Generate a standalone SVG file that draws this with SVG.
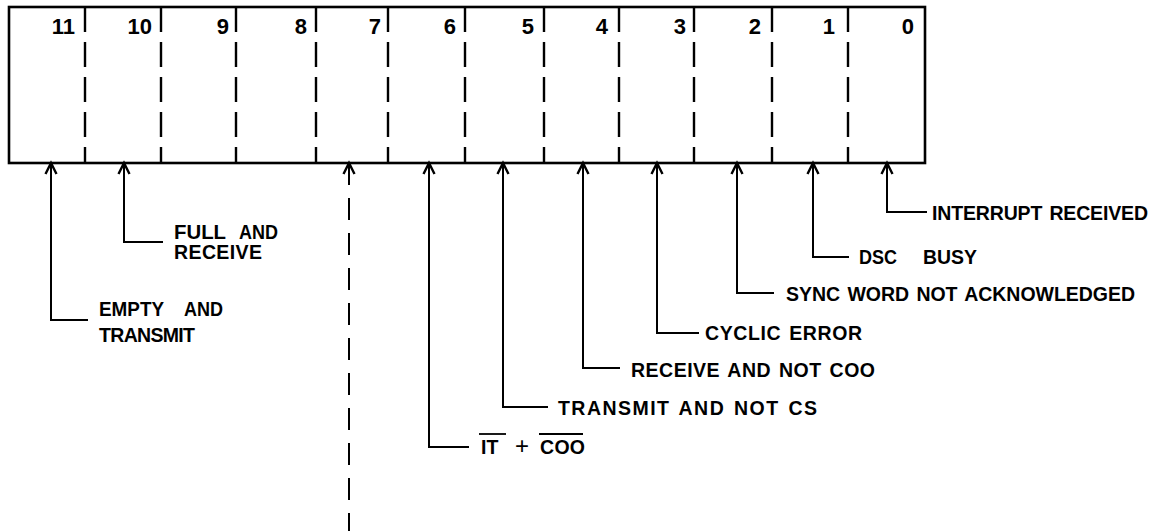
<svg xmlns="http://www.w3.org/2000/svg" width="1157" height="531" viewBox="0 0 1157 531">
<style>
.reg{fill:none;stroke:#000;stroke-width:2.6}
.div{stroke:#000;stroke-width:2.4;stroke-dasharray:25 10}
.num{font-family:"Liberation Sans",Arial,sans-serif;font-size:22px;font-weight:bold;text-anchor:end;fill:#000}
.lbl{font-family:"Liberation Sans",Arial,sans-serif;font-size:19.5px;font-weight:bold;fill:#000}
.con{fill:none;stroke:#000;stroke-width:2;marker-start:url(#ah)}
.dash{stroke-dasharray:22 13}
.bar{stroke:#000;stroke-width:1.8}
</style>
<defs>
<marker id="ah" markerUnits="userSpaceOnUse" markerWidth="14" markerHeight="14" viewBox="-12 -7 14 14" refX="0" refY="0" orient="auto-start-reverse" overflow="visible">
<path d="M-11,-5.5 L0,0 L-11,5.5" fill="none" stroke="#000" stroke-width="2.4"/>
</marker>
</defs>
<rect width="1157" height="531" fill="#fff"/>
<g id="register">
<rect class="reg" x="9" y="7" width="916" height="156"/>
<line class="div" x1="85" y1="7" x2="85" y2="163"/>
<line class="div" x1="161" y1="7" x2="161" y2="163"/>
<line class="div" x1="236" y1="7" x2="236" y2="163"/>
<line class="div" x1="316" y1="7" x2="316" y2="163"/>
<line class="div" x1="388" y1="7" x2="388" y2="163"/>
<line class="div" x1="465" y1="7" x2="465" y2="163"/>
<line class="div" x1="544" y1="7" x2="544" y2="163"/>
<line class="div" x1="619" y1="7" x2="619" y2="163"/>
<line class="div" x1="694" y1="7" x2="694" y2="163"/>
<line class="div" x1="772" y1="7" x2="772" y2="163"/>
<line class="div" x1="848" y1="7" x2="848" y2="163"/>
<g id="bit11"><text class="num" x="75" y="34">11</text></g>
<g id="bit10"><text class="num" x="152" y="34">10</text></g>
<g id="bit9"><text class="num" x="229" y="34">9</text></g>
<g id="bit8"><text class="num" x="307" y="34">8</text></g>
<g id="bit7"><text class="num" x="381" y="34">7</text></g>
<g id="bit6"><text class="num" x="456" y="34">6</text></g>
<g id="bit5"><text class="num" x="534" y="34">5</text></g>
<g id="bit4"><text class="num" x="608" y="34">4</text></g>
<g id="bit3"><text class="num" x="686" y="34">3</text></g>
<g id="bit2"><text class="num" x="761" y="34">2</text></g>
<g id="bit1"><text class="num" x="835" y="34">1</text></g>
<g id="bit0"><text class="num" x="914" y="34">0</text></g>
</g>
<g id="connectors">
<path class="con" d="M51,163 V320 H88"/>
<path class="con" d="M124,163 V242 H163"/>
<path class="con dash" d="M349,163 V531"/>
<path class="con" d="M429,163 V447 H469"/>
<path class="con" d="M503,163 V407 H548"/>
<path class="con" d="M583,163 V368 H620"/>
<path class="con" d="M657,163 V333 H699"/>
<path class="con" d="M737,163 V293 H774"/>
<path class="con" d="M813,163 V257 H849"/>
<path class="con" d="M887,163 V212 H927"/>
</g>
<g id="label-empty-transmit">
<text class="lbl" x="99" y="316"><tspan x="99" textLength="65" lengthAdjust="spacingAndGlyphs">EMPTY</tspan><tspan x="184" textLength="39" lengthAdjust="spacingAndGlyphs">AND</tspan></text>
<text class="lbl" x="99" y="342" textLength="96" lengthAdjust="spacing">TRANSMIT</text>
</g>
<g id="label-full-receive">
<text class="lbl" x="174" y="239"><tspan x="174" textLength="52" lengthAdjust="spacingAndGlyphs">FULL</tspan><tspan x="239" textLength="39" lengthAdjust="spacingAndGlyphs">AND</tspan></text>
<text class="lbl" x="174" y="259" textLength="88" lengthAdjust="spacing">RECEIVE</text>
</g>
<g id="label-it-coo">
<text class="lbl" x="481" y="454"><tspan x="481">IT</tspan><tspan x="515" font-size="24" font-weight="normal">+</tspan><tspan x="540" textLength="45" lengthAdjust="spacing">COO</tspan></text>
<line class="bar" x1="479" y1="434" x2="506" y2="434"/>
<line class="bar" x1="539" y1="434" x2="583" y2="434"/>
</g>
<g id="label-transmit-not-cs">
<text class="lbl" x="558" y="415" textLength="259" lengthAdjust="spacing" word-spacing="2">TRANSMIT AND NOT CS</text>
</g>
<g id="label-receive-not-coo">
<text class="lbl" x="631" y="377" textLength="244" lengthAdjust="spacing" word-spacing="2">RECEIVE AND NOT COO</text>
</g>
<g id="label-cyclic-error">
<text class="lbl" x="705" y="340" textLength="157" lengthAdjust="spacing" word-spacing="2">CYCLIC ERROR</text>
</g>
<g id="label-sync-word">
<text class="lbl" x="786" y="300.5" textLength="349" lengthAdjust="spacing" word-spacing="2">SYNC WORD NOT ACKNOWLEDGED</text>
</g>
<g id="label-dsc-busy">
<text class="lbl" x="859" y="263.5"><tspan x="859" textLength="38" lengthAdjust="spacingAndGlyphs">DSC</tspan><tspan x="923" textLength="54" lengthAdjust="spacingAndGlyphs">BUSY</tspan></text>
</g>
<g id="label-interrupt-received">
<text class="lbl" x="932" y="220" textLength="216" lengthAdjust="spacing" word-spacing="2">INTERRUPT RECEIVED</text>
</g>
</svg>
